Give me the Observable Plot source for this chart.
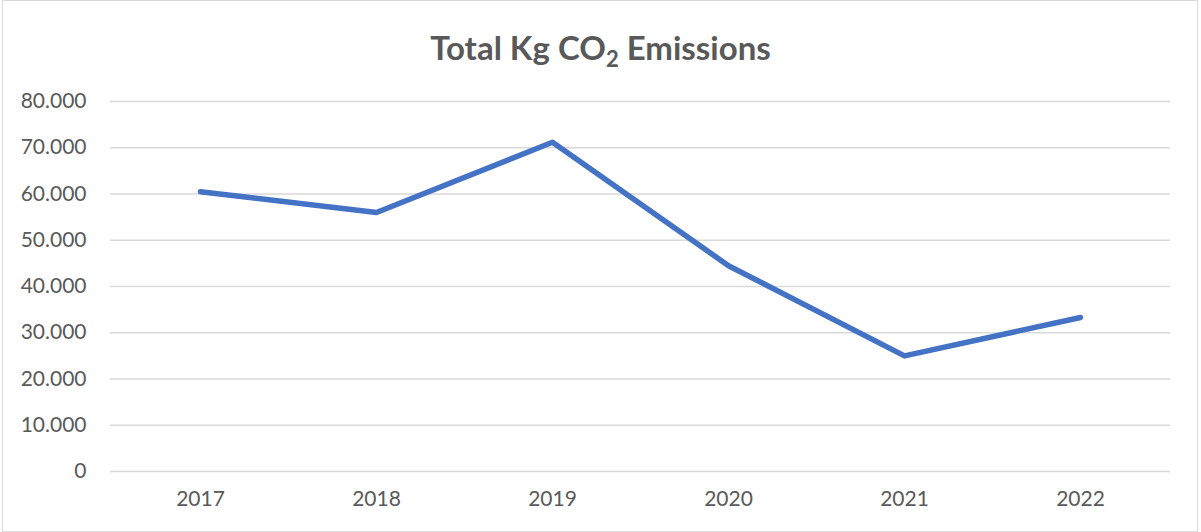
<!DOCTYPE html>
<html>
<head>
<meta charset="utf-8">
<script src="https://cdn.jsdelivr.net/npm/d3@7"></script>
<script src="https://cdn.jsdelivr.net/npm/@observablehq/plot@0.6"></script>
<style>
  html, body { margin: 0; padding: 0; background: #fff; }
  #wrap { position: relative; width: 1201px; height: 532px; overflow: hidden; font-family: Lato, "Open Sans", sans-serif; }
  #frame { position: absolute; left: 2px; top: 0px; width: 1194px; height: 530px; border: 1px solid #d9d9d9; pointer-events: none; }
  #title { height: 80px; box-sizing: border-box; padding-top: 27px; text-align: center; font-weight: bold; font-size: 33px; color: #595959; line-height: 40px; }
  #title sub { font-size: 22px; vertical-align: -7px; line-height: 0; }
</style>
</head>
<body>
<div id="wrap">
  <div id="frame"></div>
  <div id="title">Total Kg CO<sub>2</sub> Emissions</div>
  <div id="chart"></div>
</div>
<script>
const years = ["2017", "2018", "2019", "2020", "2021", "2022"];
const emissions = [60500, 56000, 71200, 44500, 25000, 33300];
const yTicks = [0, 10000, 20000, 30000, 40000, 50000, 60000, 70000, 80000];

const data = years.map((y, i) => ({year: y, value: emissions[i]}));
const fmt = v => v === 0 ? "0" : d3.format(",")(v).replace(/,/g, ".");

const chart = Plot.plot({
  width: 1201,
  height: 452,
  marginTop: 21,
  marginBottom: 61,
  marginLeft: 110,
  marginRight: 31,
  style: {fontFamily: "Lato, 'Open Sans', sans-serif", fontSize: "21px", color: "#595959", background: "transparent"},
  x: {type: "point", domain: years, padding: 0.5, label: null},
  y: {domain: [0, 80000], ticks: yTicks, label: null},
  marks: [
    Plot.gridY(yTicks, {stroke: "#d9d9d9", strokeOpacity: 1, strokeWidth: 1.5}),
    Plot.axisY({ticks: yTicks, tickFormat: fmt, tickSize: 0, tickPadding: 24, label: null, fill: "#595959"}),
    Plot.axisX({tickSize: 0, tickPadding: 20, label: null, fill: "#595959"}),
    Plot.line(data, {x: "year", y: "value", stroke: "#4472c4", strokeWidth: 5.5, strokeLinecap: "round", strokeLinejoin: "round"})
  ]
});
document.getElementById("chart").appendChild(chart);
</script>
</body>
</html>
